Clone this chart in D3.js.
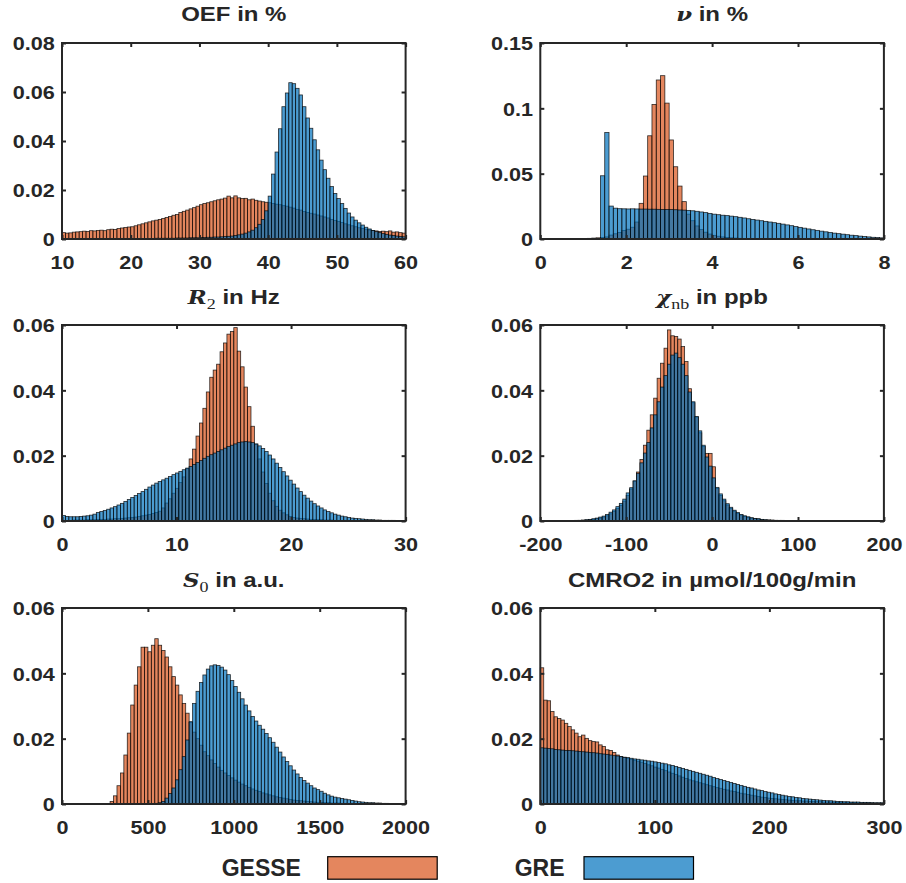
<!DOCTYPE html>
<html>
<head>
<meta charset="utf-8">
<script src="https://cdn.jsdelivr.net/npm/d3@7"></script>
<style>
body { margin: 0; background: #fff; }
text { font-family: "Liberation Sans", Arial, sans-serif; font-weight: bold; fill: #262626; }
</style>
</head>
<body>
<script>
var w = 906
var h = 883

// series names
var seriesNames = ["GESSE", "GRE"]

// OEF in %, 100 bins from 10 to 60
var oefGesse = [0.0026,0.0024,0.0025,0.0028,0.0029,0.0030,0.0032,0.0031,0.0034,0.0033,
  0.0035,0.0036,0.0034,0.0038,0.0040,0.0039,0.0043,0.0045,0.0047,0.0049,
  0.0050,0.0054,0.0058,0.0062,0.0066,0.0070,0.0074,0.0077,0.0080,0.0084,
  0.0088,0.0092,0.0097,0.0100,0.0108,0.0113,0.0118,0.0123,0.0128,0.0134,
  0.0140,0.0145,0.0148,0.0152,0.0156,0.0160,0.0163,0.0167,0.0175,0.0168,
  0.0176,0.0168,0.0165,0.0166,0.0160,0.0163,0.0158,0.0155,0.0152,0.0150,
  0.0148,0.0145,0.0142,0.0140,0.0136,0.0134,0.0130,0.0126,0.0121,0.0118,
  0.0112,0.0108,0.0105,0.0102,0.0098,0.0094,0.0090,0.0086,0.0080,0.0076,
  0.0072,0.0067,0.0062,0.0058,0.0054,0.0050,0.0046,0.0043,0.0040,0.0037,
  0.0035,0.0033,0.0031,0.0032,0.0030,0.0033,0.0028,0.0029,0.0026,0.0024]
var oefGre = [0.0001,0.0001,0.0001,0.0001,0.0001,0.0001,0.0001,0.0001,0.0001,0.0001,
  0.0001,0.0001,0.0001,0.0001,0.0001,0.0002,0.0002,0.0002,0.0002,0.0002,
  0.0002,0.0002,0.0002,0.0002,0.0002,0.0002,0.0002,0.0003,0.0003,0.0003,
  0.0003,0.0003,0.0003,0.0004,0.0004,0.0004,0.0004,0.0005,0.0005,0.0005,
  0.0006,0.0006,0.0007,0.0007,0.0008,0.0008,0.0009,0.0010,0.0011,0.0012,
  0.0014,0.0017,0.0020,0.0024,0.0029,0.0036,0.0046,0.0060,0.0080,0.0115,
  0.0175,0.0265,0.0355,0.0450,0.0540,0.0596,0.0638,0.0634,0.0615,0.0588,
  0.0540,0.0494,0.0452,0.0405,0.0364,0.0322,0.0283,0.0248,0.0214,0.0186,
  0.0165,0.0145,0.0125,0.0106,0.0090,0.0077,0.0066,0.0057,0.0048,0.0041,
  0.0035,0.0030,0.0026,0.0022,0.0019,0.0016,0.0014,0.0012,0.0010,0.0009]

// nu in %, 80 bins from 0 to 8
var nuGesse = [0,0,0,0,0,0,0,0,0,0.0002,
  0.0003,0.0005,0.0007,0.0009,0.0012,0.0016,0.0030,0.0040,0.0050,0.0065,
  0.0075,0.0090,0.0130,0.0273,0.0482,0.0790,0.1030,0.1217,0.1250,0.1040,
  0.0758,0.0553,0.0405,0.0286,0.0190,0.0140,0.0100,0.0072,0.0052,0.0038,
  0.0028,0.0021,0.0016,0.0012,0.0009,0.0007,0.0005,0.0004,0.0003,0.0002,
  0.0002,0.0001,0.0001,0.0001,0.0001,0.0001,0,0,0,0,
  0,0,0,0,0,0,0,0,0,0,
  0,0,0,0,0,0,0,0,0,0]
var nuGre = [0,0,0,0,0,0,0,0,0,0,
  0,0,0,0,0.0484,0.0815,0.0252,0.0236,0.0232,0.0231,
  0.0230,0.0231,0.0230,0.0229,0.0229,0.0228,0.0228,0.0227,0.0226,0.0226,
  0.0225,0.0224,0.0222,0.0221,0.0219,0.0216,0.0212,0.0207,0.0202,0.0196,
  0.0190,0.0186,0.0182,0.0179,0.0175,0.0171,0.0166,0.0161,0.0155,0.0150,
  0.0145,0.0140,0.0135,0.0130,0.0125,0.0120,0.0114,0.0108,0.0102,0.0095,
  0.0089,0.0083,0.0077,0.0071,0.0066,0.0060,0.0055,0.0050,0.0045,0.0041,
  0.0037,0.0033,0.0029,0.0026,0.0022,0.0019,0.0016,0.0013,0.0011,0.0009]

// R2 in Hz, 100 bins from 0 to 30
var r2Gesse = [0.0002,0.0002,0.0002,0.0003,0.0003,0.0003,0.0003,0.0004,0.0004,0.0004,
  0.0005,0.0005,0.0005,0.0006,0.0006,0.0007,0.0007,0.0008,0.0009,0.0010,
  0.0011,0.0012,0.0014,0.0016,0.0018,0.0020,0.0023,0.0026,0.0030,0.0040,
  0.0055,0.0068,0.0085,0.0100,0.0118,0.0135,0.0160,0.0190,0.0220,0.0260,
  0.0300,0.0345,0.0395,0.0440,0.0462,0.0480,0.0518,0.0545,0.0572,0.0580,
  0.0592,0.0520,0.0472,0.0410,0.0350,0.0290,0.0235,0.0190,0.0150,0.0115,
  0.0085,0.0062,0.0045,0.0033,0.0025,0.0019,0.0014,0.0011,0.0009,0.0008,
  0.0007,0.0006,0.0005,0.0005,0.0004,0.0004,0.0003,0.0003,0.0003,0.0002,
  0.0002,0.0002,0.0002,0.0002,0.0002,0.0002,0.0002,0.0002,0.0002,0.0002,
  0.0001,0.0001,0.0001,0.0001,0.0001,0.0001,0.0001,0.0001,0.0001,0.0001]
var r2Gre = [0.0017,0.0014,0.0013,0.0013,0.0013,0.0014,0.0015,0.0016,0.0018,0.0021,
  0.0026,0.0029,0.0032,0.0036,0.0040,0.0044,0.0049,0.0054,0.0060,0.0066,
  0.0072,0.0078,0.0084,0.0090,0.0097,0.0104,0.0110,0.0116,0.0121,0.0126,
  0.0131,0.0136,0.0142,0.0147,0.0152,0.0157,0.0162,0.0167,0.0173,0.0179,
  0.0185,0.0192,0.0198,0.0203,0.0208,0.0213,0.0218,0.0223,0.0228,0.0232,
  0.0236,0.0240,0.0242,0.0243,0.0242,0.0240,0.0236,0.0230,0.0222,0.0213,
  0.0202,0.0190,0.0177,0.0164,0.0151,0.0138,0.0125,0.0113,0.0101,0.0090,
  0.0079,0.0070,0.0061,0.0053,0.0046,0.0040,0.0034,0.0029,0.0025,0.0021,
  0.0018,0.0015,0.0013,0.0011,0.0009,0.0008,0.0007,0.0006,0.0005,0.0004,
  0.0004,0.0003,0.0003,0.0002,0.0002,0.0002,0.0002,0.0001,0.0001,0.0001]

// chi_nb in ppb, 100 bins from -200 to 200
var chiGesse = [0,0,0,0,0,0,0,0,0.0001,0.0001,
  0.0001,0.0002,0.0002,0.0003,0.0004,0.0005,0.0007,0.0009,0.0012,0.0016,
  0.0022,0.0029,0.0038,0.0048,0.0061,0.0078,0.0098,0.0122,0.0150,0.0188,
  0.0232,0.0278,0.0325,0.0376,0.0437,0.0483,0.0529,0.0585,0.0567,0.0565,
  0.0557,0.0534,0.0488,0.0405,0.0362,0.0318,0.0270,0.0228,0.0207,0.0207,
  0.0166,0.0100,0.0078,0.0062,0.0049,0.0038,0.0030,0.0023,0.0018,0.0014,
  0.0011,0.0009,0.0007,0.0006,0.0004,0.0003,0.0003,0.0002,0.0002,0.0001,
  0.0001,0.0001,0.0001,0.0001,0.0001,0.0001,0.0001,0.0001,0.0001,0.0001,
  0,0,0,0,0,0,0,0,0,0,
  0,0,0,0,0,0,0,0,0,0]
var chiGre = [0,0,0,0,0,0,0,0,0.0001,0.0001,
  0.0002,0.0002,0.0003,0.0004,0.0005,0.0007,0.0009,0.0012,0.0015,0.0020,
  0.0027,0.0034,0.0044,0.0054,0.0067,0.0086,0.0102,0.0123,0.0146,0.0178,
  0.0208,0.0240,0.0285,0.0325,0.0365,0.0410,0.0445,0.0480,0.0508,0.0514,
  0.0500,0.0480,0.0445,0.0395,0.0365,0.0320,0.0276,0.0232,0.0196,0.0168,
  0.0132,0.0103,0.0083,0.0067,0.0053,0.0042,0.0033,0.0026,0.0020,0.0016,
  0.0013,0.0010,0.0008,0.0007,0.0005,0.0004,0.0003,0.0003,0.0002,0.0002,
  0.0002,0.0001,0.0001,0.0001,0.0001,0.0001,0.0001,0.0001,0.0001,0.0001,
  0,0,0,0,0,0,0,0,0,0,
  0,0,0,0,0,0,0,0,0,0]

// S0 in a.u., 100 bins from 0 to 2000
var s0Gesse = [0,0,0,0,0,0,0,0,0,0,
  0,0,0,0.0001,0.0008,0.0025,0.0056,0.0095,0.0150,0.0217,
  0.0303,0.0364,0.0420,0.0480,0.0480,0.0466,0.0486,0.0506,0.0486,0.0470,
  0.0450,0.0420,0.0390,0.0364,0.0334,0.0308,0.0278,0.0250,0.0220,0.0200,
  0.0180,0.0160,0.0148,0.0135,0.0124,0.0113,0.0103,0.0095,0.0087,0.0080,
  0.0073,0.0067,0.0061,0.0056,0.0051,0.0046,0.0042,0.0038,0.0034,0.0031,
  0.0028,0.0025,0.0022,0.0020,0.0018,0.0016,0.0014,0.0012,0.0011,0.0010,
  0.0009,0.0008,0.0007,0.0006,0.0005,0.0005,0.0004,0.0004,0.0003,0.0003,
  0.0003,0.0002,0.0002,0.0002,0.0002,0.0001,0.0001,0.0001,0.0001,0.0001,
  0.0001,0.0001,0.0001,0,0,0,0,0,0,0]
var s0Gre = [0,0,0,0,0,0,0,0,0,0,
  0,0,0,0,0,0,0,0,0,0,
  0,0,0,0,0,0,0.0001,0.0002,0.0004,0.0008,
  0.0018,0.0032,0.0049,0.0074,0.0105,0.0145,0.0196,0.0252,0.0308,0.0345,
  0.0372,0.0395,0.0413,0.0423,0.0426,0.0424,0.0419,0.0410,0.0396,0.0378,
  0.0360,0.0342,0.0322,0.0303,0.0285,0.0268,0.0254,0.0241,0.0229,0.0216,
  0.0203,0.0189,0.0174,0.0159,0.0144,0.0130,0.0117,0.0104,0.0092,0.0081,
  0.0072,0.0064,0.0056,0.0049,0.0044,0.0039,0.0033,0.0028,0.0024,0.0021,
  0.0019,0.0017,0.0015,0.0013,0.0011,0.0009,0.0007,0.0006,0.0005,0.0004,
  0.0004,0.0003,0.0003,0.0002,0.0002,0.0001,0.0001,0.0001,0,0]

// CMRO2 in umol/100g/min, 100 bins from 0 to 300
var cmroGesse = [0.0417,0.0318,0.0316,0.0283,0.0267,0.0262,0.0257,0.0247,0.0237,0.0227,
  0.0217,0.0206,0.0211,0.0201,0.0194,0.0191,0.0190,0.0181,0.0176,0.0166,
  0.0164,0.0158,0.0150,0.0145,0.0143,0.0140,0.0137,0.0134,0.0131,0.0128,
  0.0124,0.0120,0.0117,0.0113,0.0110,0.0106,0.0102,0.0098,0.0094,0.0090,
  0.0086,0.0082,0.0078,0.0074,0.0071,0.0068,0.0065,0.0062,0.0059,0.0056,
  0.0053,0.0050,0.0048,0.0045,0.0043,0.0040,0.0038,0.0036,0.0033,0.0031,
  0.0029,0.0027,0.0025,0.0023,0.0021,0.0020,0.0018,0.0017,0.0016,0.0015,
  0.0014,0.0013,0.0012,0.0011,0.0010,0.0010,0.0009,0.0009,0.0008,0.0008,
  0.0007,0.0007,0.0006,0.0006,0.0006,0.0005,0.0005,0.0005,0.0004,0.0004,
  0.0004,0.0004,0.0003,0.0003,0.0003,0.0003,0.0003,0.0002,0.0002,0.0002]
var cmroGre = [0.0172,0.0171,0.0170,0.0169,0.0167,0.0166,0.0165,0.0164,0.0164,0.0163,
  0.0162,0.0161,0.0160,0.0159,0.0158,0.0157,0.0156,0.0154,0.0153,0.0152,
  0.0150,0.0148,0.0147,0.0145,0.0143,0.0142,0.0140,0.0138,0.0137,0.0135,
  0.0134,0.0132,0.0131,0.0129,0.0127,0.0125,0.0123,0.0120,0.0118,0.0115,
  0.0112,0.0109,0.0106,0.0103,0.0100,0.0097,0.0094,0.0091,0.0088,0.0085,
  0.0081,0.0078,0.0075,0.0072,0.0069,0.0066,0.0063,0.0060,0.0057,0.0054,
  0.0051,0.0049,0.0046,0.0043,0.0041,0.0038,0.0036,0.0034,0.0031,0.0029,
  0.0027,0.0025,0.0023,0.0022,0.0020,0.0019,0.0017,0.0016,0.0015,0.0014,
  0.0013,0.0012,0.0011,0.0010,0.0010,0.0009,0.0008,0.0008,0.0007,0.0007,
  0.0006,0.0006,0.0006,0.0005,0.0005,0.0005,0.0004,0.0004,0.0004,0.0004]

// tick labels
var oefXTicks = [10, 20, 30, 40, 50, 60]
var nuXTicks = [0, 2, 4, 6, 8]
var r2XTicks = [0, 10, 20, 30]
var chiXTicks = [-200, -100, 0, 100, 200]
var s0XTicks = [0, 500, 1000, 1500, 2000]
var cmroXTicks = [0, 100, 200, 300]
var yTicks8 = [0, 0.02, 0.04, 0.06, 0.08]
var yTicks15 = [0, 0.05, 0.1, 0.15]
var yTicks6 = [0, 0.02, 0.04, 0.06]

var colors = ["rgb(217,83,25)", "rgb(0,114,189)"]
var faceAlpha = 0.7
var textColor = "#262626"
var stretch = 1.2   // the picture is a bit wider than plain Arial

var colX = [62, 540.3]
var rowY = [43, 325, 608]
var pw = 343.6
var ph = 196

var panels = [
  { title: [["OEF in %", ""]], dom: [10, 60], y: 0.08, yt: yTicks8, xt: oefXTicks, a: oefGesse, b: oefGre, col: 0, row: 0 },
  { title: [["\u03bd", "m"], [" in %", ""]], dom: [0, 8], y: 0.15, yt: yTicks15, xt: nuXTicks, a: nuGesse, b: nuGre, col: 1, row: 0 },
  { title: [["R", "m"], ["2", "sub"], [" in Hz", ""]], dom: [0, 30], y: 0.06, yt: yTicks6, xt: r2XTicks, a: r2Gesse, b: r2Gre, col: 0, row: 1 },
  { title: [["\u03c7", "m"], ["nb", "sub"], [" in ppb", ""]], dom: [-200, 200], y: 0.06, yt: yTicks6, xt: chiXTicks, a: chiGesse, b: chiGre, col: 1, row: 1 },
  { title: [["S", "m"], ["0", "sub"], [" in a.u.", ""]], dom: [0, 2000], y: 0.06, yt: yTicks6, xt: s0XTicks, a: s0Gesse, b: s0Gre, col: 0, row: 2 },
  { title: [["CMRO2 in \u00b5mol/100g/min", ""]], dom: [0, 300], y: 0.06, yt: yTicks6, xt: cmroXTicks, a: cmroGesse, b: cmroGre, col: 1, row: 2 }
]

// plain labels, with a hyphen for negatives like the original
var plain = function (d) { return String(d) }

var svg = d3.select("body")
    .append("svg")
    .attr("width", w)
    .attr("height", h)

panels.forEach(function (p) {
    var left = colX[p.col]
    var top = rowY[p.row]
    var g = svg.append("g").attr("transform", "translate(" + left + "," + top + ")")

    var x = d3.scaleLinear().domain(p.dom).range([0, pw])
    var y = d3.scaleLinear().domain([0, p.y]).range([ph, 0])
    var n = p.a.length
    var bw = (p.dom[1] - p.dom[0]) / n

    // histograms, GESSE first, GRE on top
    ;[p.a, p.b].forEach(function (vals, s) {
        g.append("g")
            .selectAll("rect")
            .data(vals.map(function (v, i) { return { i: i, v: v } }).filter(function (d) { return d.v > 0 }))
            .enter()
            .append("rect")
            .attr("x", function (d) { return x(p.dom[0] + d.i * bw) })
            .attr("width", function (d) { return x(p.dom[0] + (d.i + 1) * bw) - x(p.dom[0] + d.i * bw) })
            .attr("y", function (d) { return y(d.v) })
            .attr("height", function (d) { return y(0) - y(d.v) })
            .attr("fill", colors[s])
            .attr("fill-opacity", faceAlpha)
            .attr("stroke", "#000")
            .attr("stroke-opacity", 0.8)
            .attr("stroke-width", 0.8)
    })

    // axes with inward ticks on all four sides
    var xb = g.append("g").attr("transform", "translate(0," + ph + ")")
        .call(d3.axisBottom(x).tickValues(p.xt).tickSize(-4).tickSizeOuter(0).tickPadding(17).tickFormat(plain))
    var xt = g.append("g")
        .call(d3.axisTop(x).tickValues(p.xt).tickSize(-4).tickSizeOuter(0).tickFormat(""))
    var yl = g.append("g")
        .call(d3.axisLeft(y).tickValues(p.yt).tickSize(-4).tickSizeOuter(0).tickPadding(6).tickFormat(plain))
    var yr = g.append("g").attr("transform", "translate(" + pw + ",0)")
        .call(d3.axisRight(y).tickValues(p.yt).tickSize(-4).tickSizeOuter(0).tickFormat(""))

    ;[xb, xt, yl, yr].forEach(function (a) {
        a.select(".domain").remove()
        a.selectAll("line").attr("stroke", textColor).attr("stroke-width", 2)
        a.selectAll("text")
            .attr("fill", textColor)
            .style("font-size", "18px")
            .attr("transform", "scale(" + stretch + ",1)")
    })
    yl.selectAll("text").attr("dy", "0.38em")

    g.append("rect")
        .attr("width", pw)
        .attr("height", ph)
        .attr("fill", "none")
        .attr("stroke", textColor)
        .attr("stroke-width", 2)

    // title
    var t = g.append("text")
        .attr("text-anchor", "middle")
        .attr("transform", "translate(" + (pw / 2) + "," + (p.row == 0 ? -22 : -21) + ") scale(" + stretch + ",1)")
        .style("font-size", "20px")
        .attr("fill", "#000")
    var shifted = false
    p.title.forEach(function (part) {
        var ts = t.append("tspan").text(part[0])
        if (part[1] == "m") {
            ts.style("font-family", "'DejaVu Serif', 'Liberation Serif', serif")
                .style("font-style", "italic")
                .style("font-size", "19px")
        } else if (part[1] == "sub") {
            ts.style("font-family", "'Liberation Serif', 'DejaVu Serif', serif")
                .style("font-weight", "normal")
                .style("font-size", "15px")
                .attr("dy", 5)
            shifted = true
        } else if (shifted) {
            ts.attr("dy", -5)
            shifted = false
        }
    })
})

// legend
var legend = [
  { name: seriesNames[0], tx: 221.7, sx: 327.7 },
  { name: seriesNames[1], tx: 514.7, sx: 584 }
]
legend.forEach(function (d, i) {
    svg.append("text")
        .attr("x", d.tx)
        .attr("y", 876)
        .style("font-size", "23px")
        .attr("fill", "#000")
        .text(d.name)
    svg.append("rect")
        .attr("x", d.sx)
        .attr("y", 856.7)
        .attr("width", 109.5)
        .attr("height", 22.5)
        .attr("fill", colors[i])
        .attr("fill-opacity", faceAlpha)
        .attr("stroke", "#000")
        .attr("stroke-width", 1.2)
})
</script>
</body>
</html>
